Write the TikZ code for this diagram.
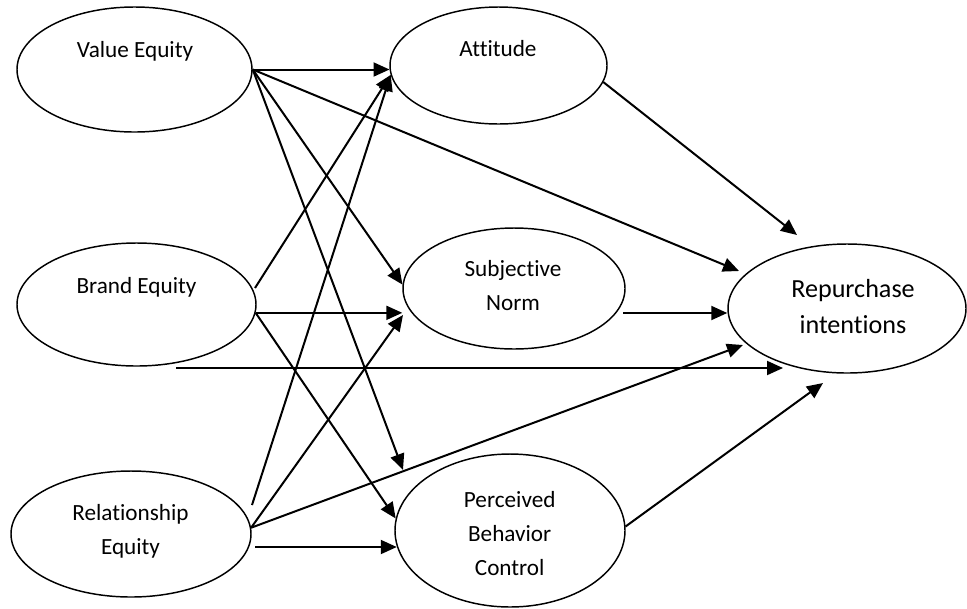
\documentclass[tikz,border=0pt]{standalone}
\usepackage{fontspec}
\setmainfont{Carlito}[Ligatures=NoCommon]
\usetikzlibrary{arrows.meta,shapes.geometric}
\begin{document}
\begin{tikzpicture}[x=0.75pt,y=-0.75pt,
  ell/.style={draw, ellipse, line width=1.1pt, inner sep=0pt},
  lbl/.style={font=\fontsize{17.4}{25.5}\selectfont, align=center, anchor=base, inner sep=0pt},
  lblbig/.style={font=\fontsize{19.6}{27}\selectfont, align=center, anchor=base, inner sep=0pt},
  arr/.style={line width=1.5pt, -{Triangle[length=12pt,width=10.5pt]}}
]
\useasboundingbox (0,0) rectangle (967,608);

% ellipses
\node[ell, minimum width={235*0.75pt}, minimum height={125*0.75pt}] (ve)  at (134.5,69.5) {};
\node[ell, minimum width={217*0.75pt}, minimum height={117*0.75pt}] (att) at (498.5,65.5) {};
\node[ell, minimum width={239*0.75pt}, minimum height={123*0.75pt}] (be)  at (136.5,304.5) {};
\node[ell, minimum width={222*0.75pt}, minimum height={121*0.75pt}] (sn)  at (514,288.5) {};
\node[ell, minimum width={238*0.75pt}, minimum height={129*0.75pt}] (rep) at (847,308.5) {};
\node[ell, minimum width={240*0.75pt}, minimum height={126*0.75pt}] (re)  at (131,534) {};
\node[ell, minimum width={230*0.75pt}, minimum height={153*0.75pt}] (pbc) at (510,530.5) {};

% labels (base anchor = baseline of the last line)
\node[lbl] (veT)  at (135,57.3)   {Value Equity};
\node[lbl] (attT) at (498,56)     {Attitude};
\node[lbl] (beT)  at (136.5,293.3) {Brand Equity};
\node[lbl] (snT)  at (513,310)    {Subjective\\Norm};
\node[lblbig] (repT) at (853,333.3) {Repurchase\\intentions};
\node[lbl] (reT)  at (130.5,554)  {Relationship\\Equity};
\node[lbl] (pbcT) at (509.7,575.7) {Perceived\\Behavior\\Control};

% free connector ends
\coordinate (beA) at (255,288);
\coordinate (beC) at (176,368);
\coordinate (reA) at (252,505);
\coordinate (reC) at (255,547);
\coordinate (snC) at (403,315);
\coordinate (pbcA) at (403,470);
\coordinate (snOut) at (623,313);
\coordinate (repA) at (797,235);
\coordinate (repB) at (739,271);
\coordinate (repC) at (783,368);
\coordinate (repD) at (743,345);
\coordinate (repE) at (823,383);

% from Value Equity
\draw[arr] (ve.east) -- (ve.east -| att.182);
\draw[arr] (ve.east) -- (sn.178);
\draw[arr] (ve.east) -- (pbcA);
\draw[arr] (ve.east) -- (repB);

% from Brand Equity
\draw[arr] (beA) -- (att.185);
\draw[arr] (be.-4) -- (be.-4 -| sn.west);
\draw[arr] (be.-4) -- (pbc.174);
\draw[arr] (beC) -- (repC);

% from Relationship Equity
\draw[arr] (reA) -- (att.185);
\draw[arr] (re.3) -- (snC);
\draw[arr] (re.3) -- (repD);
\draw[arr] (reC) -- (reC -| pbc.188);

% to Repurchase intentions
\draw[arr] (att.-9) -- (repA);
\draw[arr] (snOut) -- (snOut -| rep.west);
\draw[arr] (pbc.2) -- (repE);
\end{tikzpicture}
\end{document}
